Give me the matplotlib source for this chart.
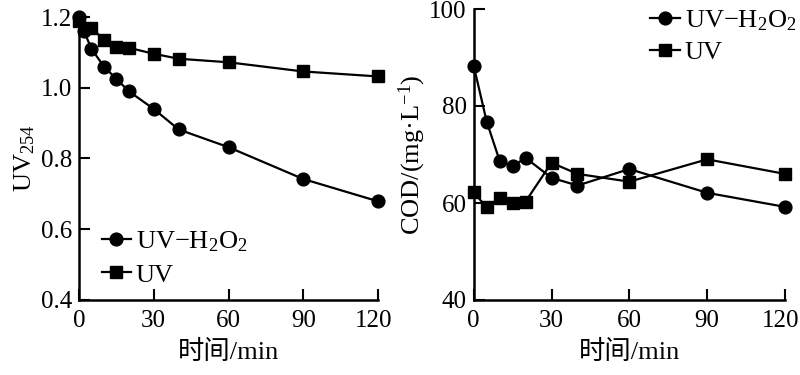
import matplotlib
matplotlib.use("Agg")
import matplotlib.pyplot as plt
from matplotlib.transforms import ScaledTranslation

plt.rcParams['font.family'] = ['Liberation Serif', 'Noto Sans CJK SC']
plt.rcParams['mathtext.fontset'] = 'custom'
plt.rcParams['mathtext.rm'] = 'Liberation Serif'
plt.rcParams['mathtext.it'] = 'Liberation Serif:italic'
plt.rcParams['axes.unicode_minus'] = False

# Left panel: UV254
t_uvh2o2_a = [0, 2, 5, 10, 15, 20, 30, 40, 60, 90, 120]
uv254_uvh2o2 = [1.20, 1.16, 1.11, 1.06, 1.025, 0.99, 0.94, 0.882, 0.832, 0.742, 0.679]
t_uv_a = [0, 5, 10, 15, 20, 30, 40, 60, 90, 120]
uv254_uv = [1.19, 1.17, 1.135, 1.115, 1.113, 1.096, 1.082, 1.072, 1.046, 1.032]

# Right panel: COD
t_b = [0, 5, 10, 15, 20, 30, 40, 60, 90, 120]
cod_uvh2o2 = [88.3, 76.8, 68.7, 67.6, 69.3, 65.2, 63.6, 67.0, 62.1, 59.2]
cod_uv = [62.2, 59.1, 61.1, 60.1, 60.3, 68.3, 66.0, 64.4, 69.0, 66.0]

xticks = [0, 30, 60, 90, 120]
lab_h2o2 = 'UV\u2212H$_\\mathregular{2}$O$_\\mathregular{2}$'
lab_uv = 'UV'

FS = 19
TFS = 18

fig = plt.figure(figsize=(8, 3.75), dpi=100)
ax1 = fig.add_axes([79/800, 75/375, (378-79)/800, (300-17)/375])
ax2 = fig.add_axes([473.7/800, 75/375, (785-473.7)/800, (300-9)/375])

shift = ScaledTranslation(-4/100, 0, fig.dpi_scale_trans)

def style(ax):
    for s in ['top', 'right']:
        ax.spines[s].set_visible(False)
    for s in ['left', 'bottom']:
        ax.spines[s].set_linewidth(1.8)
    ax.tick_params(direction='in', length=8, width=1.5, labelsize=TFS, pad=5)
    ax.tick_params(axis='x', pad=7)
    ax.set_xticks(xticks)
    ax.set_xlim(0, 120)
    lbl = ax.get_xticklabels()[-1]
    lbl.set_transform(lbl.get_transform() + shift)

lw = 1.6
ms = 9.2
ax1.plot(t_uvh2o2_a, uv254_uvh2o2, '-o', color='black', lw=lw, ms=ms, clip_on=False, label=lab_h2o2)
ax1.plot(t_uv_a, uv254_uv, '-s', color='black', lw=lw, ms=ms, clip_on=False, label=lab_uv)
ax1.set_ylim(0.4, 1.2)
ax1.set_yticks([0.4, 0.6, 0.8, 1.0, 1.2])
ax1.set_yticklabels(['0.4', '0.6', '0.8', '1.0', '1.2'])
style(ax1)
ax1.set_xlabel('时间/min', fontsize=FS, labelpad=6)
ax1.set_ylabel('UV$_\\mathregular{254}$', fontsize=FS, labelpad=3)
ax1.legend(loc='lower left', bbox_to_anchor=(0.04, 0.01), frameon=False, fontsize=FS,
           handlelength=1.1, handletextpad=0.2, labelspacing=0.35, borderaxespad=0)

ax2.plot(t_b, cod_uvh2o2, '-o', color='black', lw=lw, ms=ms, clip_on=False, label=lab_h2o2)
ax2.plot(t_b, cod_uv, '-s', color='black', lw=lw, ms=ms, clip_on=False, label=lab_uv)
ax2.set_ylim(40, 100)
ax2.set_yticks([40, 60, 80, 100])
style(ax2)
ax2.set_xlabel('时间/min', fontsize=FS, labelpad=6)
ax2.set_ylabel('COD/(mg·L$^\\mathregular{-1}$)', fontsize=FS, labelpad=1)
ax2.legend(loc='upper right', bbox_to_anchor=(1.07, 1.04), frameon=False, fontsize=FS,
           handlelength=1.1, handletextpad=0.2, labelspacing=0.3, borderaxespad=0)

fig.savefig('out.png', dpi=100)
